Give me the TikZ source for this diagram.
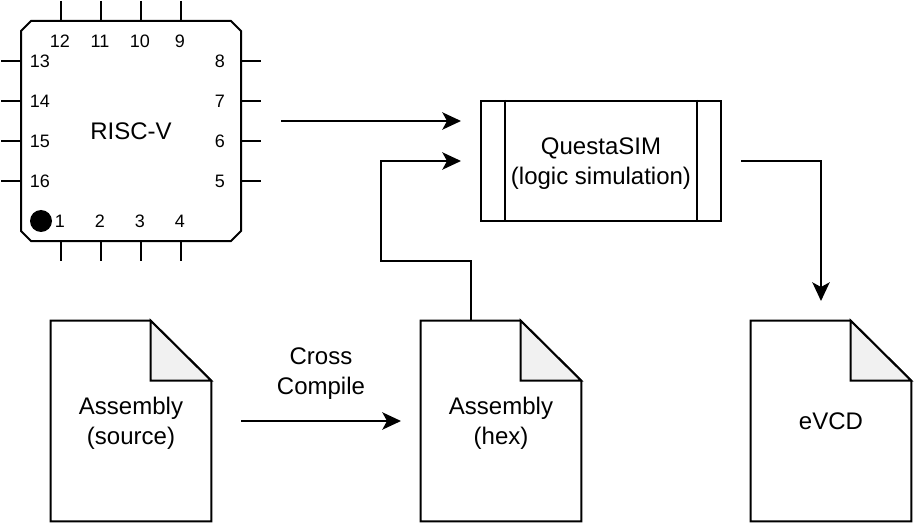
\documentclass[tikz,border=0pt]{standalone}
\usepackage{fontspec}
\setmainfont{Liberation Sans}
\usetikzlibrary{arrows.meta,shapes.misc}
\definecolor{foldgray}{HTML}{F1F1F1}
\tikzset{
	wire/.style={line width=1.5pt,line join=miter},
	flow/.style={wire,-{Stealth[length=14pt,width=13pt,inset=3.5pt]}},
	label/.style={font=\fontsize{18pt}{22.5pt}\selectfont,align=center},
	twoline/.style={yshift=-1.9pt},
	pinlabel/.style={font=\fontsize{13.5pt}{16pt}\selectfont,inner sep=0pt},
	chipbox/.style={draw,wire,chamfered rectangle,chamfered rectangle xsep=3.75pt,chamfered rectangle ysep=3.75pt,minimum width=165pt,minimum height=165pt,inner sep=0pt,label},
	simbox/.style={draw,wire,rectangle,minimum width=180pt,minimum height=90pt,inner sep=0pt},
	docbox/.style={rectangle,minimum width=120pt,minimum height=150pt,inner sep=0pt,label}
}
\def\docfile[#1](#2)(#3,#4)#5{
	\coordinate (#2) at (#3,#4);
	\node[docbox] (#2box) at (#2) {};
	\draw[wire,fill=white] (#2box.north west) -- ([xshift=75pt]#2box.north west) -- ([yshift=-45pt]#2box.north east) -- (#2box.south east) -- (#2box.south west) -- cycle;
	\draw[wire,fill=foldgray] ([xshift=75pt]#2box.north west) -- ([yshift=-45pt]#2box.north east) -- ([xshift=75pt,yshift=-45pt]#2box.north west) -- cycle;
	\node[label,#1] (#2text) at (#2) {#5};
}
\begin{document}
\begin{tikzpicture}[x=0.75pt,y=-0.75pt]
		\useasboundingbox (0,0) rectangle (914,524);
		%%%%% CHIP %%%%%
		\node[chipbox] (chip) at (131,131) {RISC-V};
		\foreach \p in {61,101,141,181} {
			\draw[wire] (\p,1) -- (\p,21);
			\draw[wire] (\p,241) -- (\p,261);
			\draw[wire] (1,\p) -- (21,\p);
			\draw[wire] (241,\p) -- (261,\p);
		}
		\foreach \n/\x/\y in {1/60/221,2/100/221,3/140/221,4/180/221,
			5/220/181,6/220/141,7/220/101,8/220/61,
			9/180/41,10/140/41,11/100/41,12/60/41,
			13/40/61,14/40/101,15/40/141,16/40/181}
			\node[pinlabel] (pin\n) at (\x,\y) {\n};
		\node[circle,fill=black,minimum size=16.5pt,inner sep=0pt] (dot) at (41,221) {};

		%%%%% SIMULATION %%%%%
		\node[simbox] (sim) at (601,161) {};
		\node[label,twoline] (simtext) at (sim) {QuestaSIM\\(logic simulation)};
		\draw[wire] ([xshift=18.4pt]sim.north west) -- ([xshift=18.4pt]sim.south west);
		\draw[wire] ([xshift=-18.4pt]sim.north east) -- ([xshift=-18.4pt]sim.south east);

		%%%%% FILES %%%%%
		\docfile[twoline](source)(131,421){Assembly\\(source)}
		\docfile[twoline](hex)(501,421){Assembly\\(hex)}
		\docfile[](evcd)(831,421){eVCD}
		\node[label,twoline] (cross) at (321,371) {Cross\\Compile};

		%%%%% ARROWS %%%%%
		\coordinate (chipout) at (281,121);
		\coordinate (simin1) at (461,121);
		\coordinate (simin2) at (461,161);
		\coordinate (hexout) at (471,321);
		\coordinate (simout) at (741,161);
		\coordinate (evcdin) at (821,301);
		\coordinate (srcout) at (241,421);
		\coordinate (hexin) at (401,421);
		\draw[flow] (chipout) -- (simin1);
		\draw[flow] (hexout) -- (471,261) -- (381,261) -- (381,161) -- (simin2);
		\draw[flow] (simout) -- (821,161) -- (evcdin);
		\draw[flow] (srcout) -- (hexin);
\end{tikzpicture}
\end{document}
